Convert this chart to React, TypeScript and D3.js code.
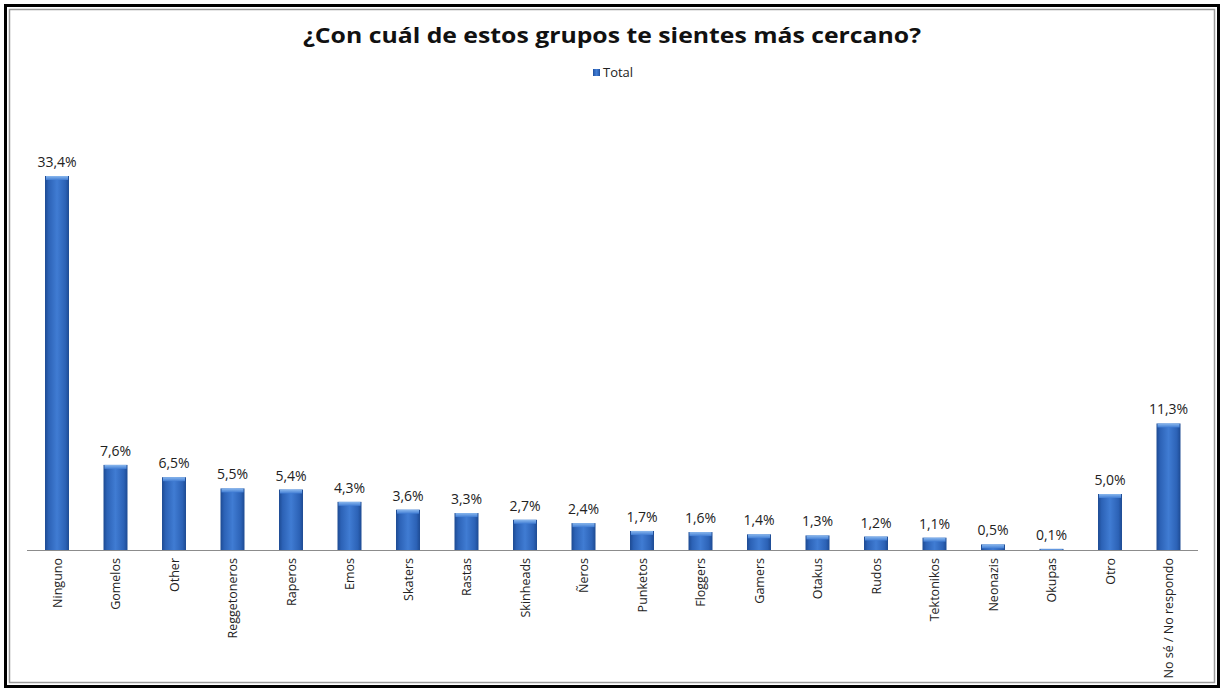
import React from "react";
import * as d3 from "d3";

const categories = [
  "Ninguno", "Gomelos", "Other", "Reggetoneros", "Raperos", "Emos", "Skaters",
  "Rastas", "Skinheads", "Ñeros", "Punketos", "Floggers", "Gamers", "Otakus",
  "Rudos", "Tektonikos", "Neonazis", "Okupas", "Otro", "No sé / No respondo",
];
const values = [
  33.4, 7.6, 6.5, 5.5, 5.4, 4.3, 3.6, 3.3, 2.7, 2.4, 1.7, 1.6, 1.4, 1.3, 1.2,
  1.1, 0.5, 0.1, 5.0, 11.3,
];
const seriesName = "Total";
const title = "¿Con cuál de estos grupos te sientes más cercano?";

const W = 1225;
const H = 690;
const FONT = "'Open Sans', 'Noto Sans', sans-serif";

export default function App() {
  const x = d3
    .scaleBand<string>()
    .domain(categories)
    .range([27.75, 1197.75])
    .paddingInner(0.59)
    .paddingOuter(0.295);
  const baseline = 550;
  const y = d3.scaleLinear().domain([0, 33.4]).range([baseline, 176]);
  const fmt = (v: number) => d3.format(".1f")(v).replace(".", ",") + "%";

  return (
    <svg
      width={W}
      height={H}
      style={{ position: "absolute", left: 0, top: 0, background: "#fff" }}
    >
      <defs>
        <linearGradient id="barGrad" x1="0" y1="0" x2="1" y2="0">
          <stop offset="0" stopColor="#1d4a92" />
          <stop offset="0.15" stopColor="#2c62b6" />
          <stop offset="0.5" stopColor="#407cd3" />
          <stop offset="0.85" stopColor="#2c62b6" />
          <stop offset="1" stopColor="#1d4a92" />
        </linearGradient>
        <linearGradient id="capGrad" x1="0" y1="0" x2="0" y2="1">
          <stop offset="0" stopColor="#8ab8ee" />
          <stop offset="1" stopColor="#407cd3" />
        </linearGradient>
      </defs>
      <rect x={5.5} y={5.5} width={1213} height={681} fill="#fff" stroke="#000" strokeWidth={3} />
      <rect x={9.5} y={9.5} width={1205} height={673} fill="none" stroke="#9a9a9a" strokeWidth={1.5} />

      <text
        x={612}
        y={43}
        textAnchor="middle"
        fontFamily={FONT}
        fontWeight="bold"
        fontSize={21}
        textLength={618}
        lengthAdjust="spacingAndGlyphs"
        fill="#111"
      >
        {title}
      </text>
      <rect x={593} y={69} width={7} height={7} fill="url(#barGrad)" />
      <text x={603} y={77} fontFamily={FONT} fontSize={13} fill="#222">
        {seriesName}
      </text>

      {categories.map((c, i) => {
        const bx = x(c)!;
        const bw = x.bandwidth();
        const top = y(values[i]);
        const h = baseline - top;
        const capH = Math.min(4, h);
        return (
          <g key={c}>
            {h > 0.5 && (
              <>
                <rect x={bx} y={top} width={bw} height={h} fill="url(#barGrad)" />
                <rect x={bx + 1} y={top} width={bw - 2} height={capH} fill="url(#capGrad)" />
              </>
            )}
            <text
              x={bx + bw / 2}
              y={top - 9}
              textAnchor="middle"
              fontFamily={FONT}
              fontSize={14}
              fill="#222"
            >
              {fmt(values[i])}
            </text>
            <text
              transform={`translate(${bx + bw / 2 + 4.5},558) rotate(-90)`}
              textAnchor="end"
              fontFamily={FONT}
              fontSize={12.5}
              fill="#222"
            >
              {c}
            </text>
          </g>
        );
      })}
      <line x1={27} x2={1198} y1={baseline + 0.5} y2={baseline + 0.5} stroke="#8c8c8c" strokeWidth={1} />
    </svg>
  );
}
